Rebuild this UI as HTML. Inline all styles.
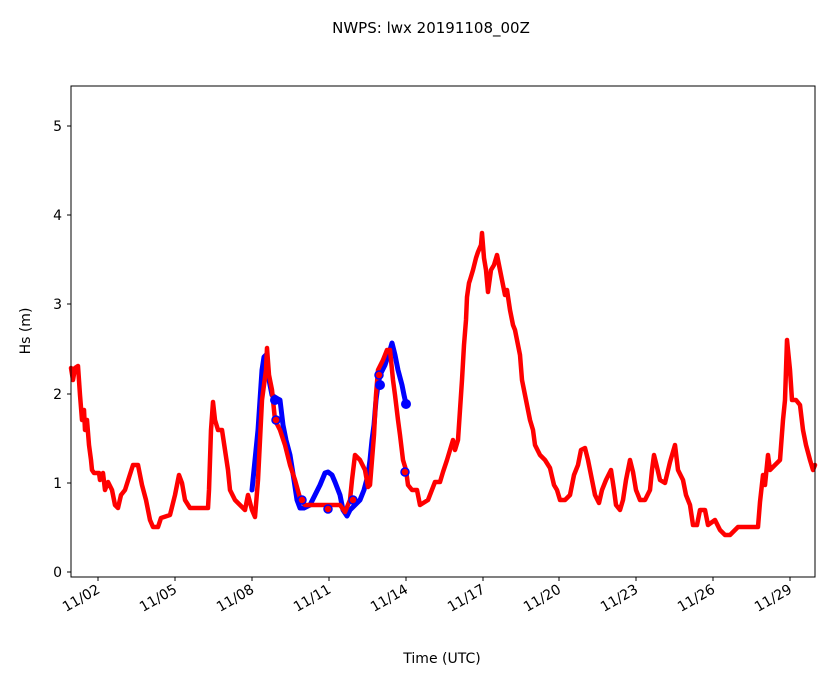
<!DOCTYPE html>
<html><head><meta charset="utf-8"><style>body{margin:0;background:#fff}svg{display:block;font-family:"DejaVu Sans","Liberation Sans",sans-serif}</style></head><body>
<svg width="833" height="681" viewBox="0 0 833 681" xmlns="http://www.w3.org/2000/svg">
<text x="431" y="33" font-size="15" text-anchor="middle">NWPS: lwx 20191108_00Z</text>
<g fill="none" stroke-linejoin="round" stroke-linecap="round">
<polyline stroke="#0000ff" stroke-width="5" points="252,490 255,460 258,430 260,400 262,370 264,357 266,355 268,375 272,395 276,398 280,400 283,425 286,440 290,455 294,480 297,500 300,508 304,508 310,505 315,495 320,485 325,473 328,472 332,475 335,482 340,495 343,510 347,516 350,510 355,505 360,500 364,490 368,475 370,460 372,440 374,425 376,400 378,385 380,375 385,365 390,350 392,343 395,355 398,370 402,385 404,395 406,404"/>
<polyline stroke="#ff0000" stroke-width="4.5" points="71,368 73,380 75,368 78,366 80,395 82,420 84,410 85,430 87,420 89,445 91,460 92,470 94,473 99,473 100,480 103,473 105,490 108,482 112,490 115,505 118,508 121,495 125,490 133,465 138,465 142,485 146,500 150,520 153,527 158,527 161,518 170,515 175,495 179,475 182,483 185,500 190,508 195,508 208,508 209,490 211,430 213,402 215,420 218,430 222,430 225,450 228,470 230,490 235,500 240,505 245,510 248,495 252,510 255,517 258,480 262,400 266,370 267,348 269,375 272,390 275,420 280,430 285,445 290,465 295,480 300,498 305,505 315,505 340,505 345,512 350,500 352,480 355,455 360,460 365,470 368,487 370,485 374,435 376,395 378,370 383,360 387,350 390,350 393,380 395,395 398,420 400,435 403,460 406,470 408,485 412,490 417,490 420,505 428,500 435,482 440,482 443,472 447,460 450,450 453,440 455,450 458,440 460,410 462,380 464,345 466,320 467,297 469,283 470,280 473,270 476,258 478,252 481,245 482,233 484,258 486,270 488,292 491,270 494,265 497,255 500,270 502,280 505,295 507,290 510,310 513,325 515,330 517,340 520,355 522,380 525,395 528,410 530,420 533,430 535,445 540,455 545,460 550,468 554,485 557,490 560,500 565,500 570,495 574,475 578,465 581,450 585,448 588,460 592,480 595,495 599,503 602,490 606,480 611,470 614,490 616,505 620,510 623,500 626,480 630,460 633,472 636,490 640,500 645,500 650,490 652,470 654,455 656,463 660,480 665,483 670,462 675,445 678,470 683,480 686,495 690,505 693,525 697,525 700,510 705,510 708,525 715,520 720,530 725,535 730,535 738,527 745,527 758,527 760,502 763,475 765,485 768,455 770,470 775,465 780,460 783,420 785,400 787,340 788,350 790,370 792,400 796,400 800,405 803,430 806,445 810,460 813,470 815,465"/>
</g>
<g fill="#0000ff"><circle cx="275" cy="400" r="5"/><circle cx="406" cy="404" r="5"/><circle cx="380" cy="385" r="5"/></g>
<g fill="#ff0000" stroke="#0000ff" stroke-width="1.5"><circle cx="276" cy="420" r="4"/><circle cx="302" cy="500" r="4"/><circle cx="328" cy="509" r="4"/><circle cx="353" cy="500" r="4"/><circle cx="379" cy="375" r="4"/><circle cx="405" cy="472" r="4"/></g>
<rect x="71" y="86" width="744" height="491" fill="none" stroke="#000" stroke-width="1"/>
<g stroke="#000" stroke-width="1">
<line x1="67" y1="572" x2="71" y2="572"/><line x1="67" y1="483" x2="71" y2="483"/><line x1="67" y1="394" x2="71" y2="394"/><line x1="67" y1="304" x2="71" y2="304"/><line x1="67" y1="215" x2="71" y2="215"/><line x1="67" y1="126" x2="71" y2="126"/>
<line x1="98" y1="577" x2="98" y2="581"/><line x1="175" y1="577" x2="175" y2="581"/><line x1="252" y1="577" x2="252" y2="581"/><line x1="329" y1="577" x2="329" y2="581"/><line x1="406" y1="577" x2="406" y2="581"/><line x1="483" y1="577" x2="483" y2="581"/><line x1="559" y1="577" x2="559" y2="581"/><line x1="636" y1="577" x2="636" y2="581"/><line x1="713" y1="577" x2="713" y2="581"/><line x1="790" y1="577" x2="790" y2="581"/>
</g>
<g font-size="14" text-anchor="end">
<text x="62" y="577">0</text><text x="62" y="488">1</text><text x="62" y="399">2</text><text x="62" y="309">3</text><text x="62" y="220">4</text><text x="62" y="131">5</text>
</g>
<g font-size="14" text-anchor="end">
<text transform="translate(101,592) rotate(-30)">11/02</text>
<text transform="translate(178,592) rotate(-30)">11/05</text>
<text transform="translate(255,592) rotate(-30)">11/08</text>
<text transform="translate(332,592) rotate(-30)">11/11</text>
<text transform="translate(409,592) rotate(-30)">11/14</text>
<text transform="translate(486,592) rotate(-30)">11/17</text>
<text transform="translate(562,592) rotate(-30)">11/20</text>
<text transform="translate(639,592) rotate(-30)">11/23</text>
<text transform="translate(716,592) rotate(-30)">11/26</text>
<text transform="translate(793,592) rotate(-30)">11/29</text>
</g>
<text x="442" y="663" font-size="14" text-anchor="middle">Time (UTC)</text>
<text transform="translate(30,331) rotate(-90)" font-size="14" text-anchor="middle">Hs (m)</text>
</svg>
</body></html>
